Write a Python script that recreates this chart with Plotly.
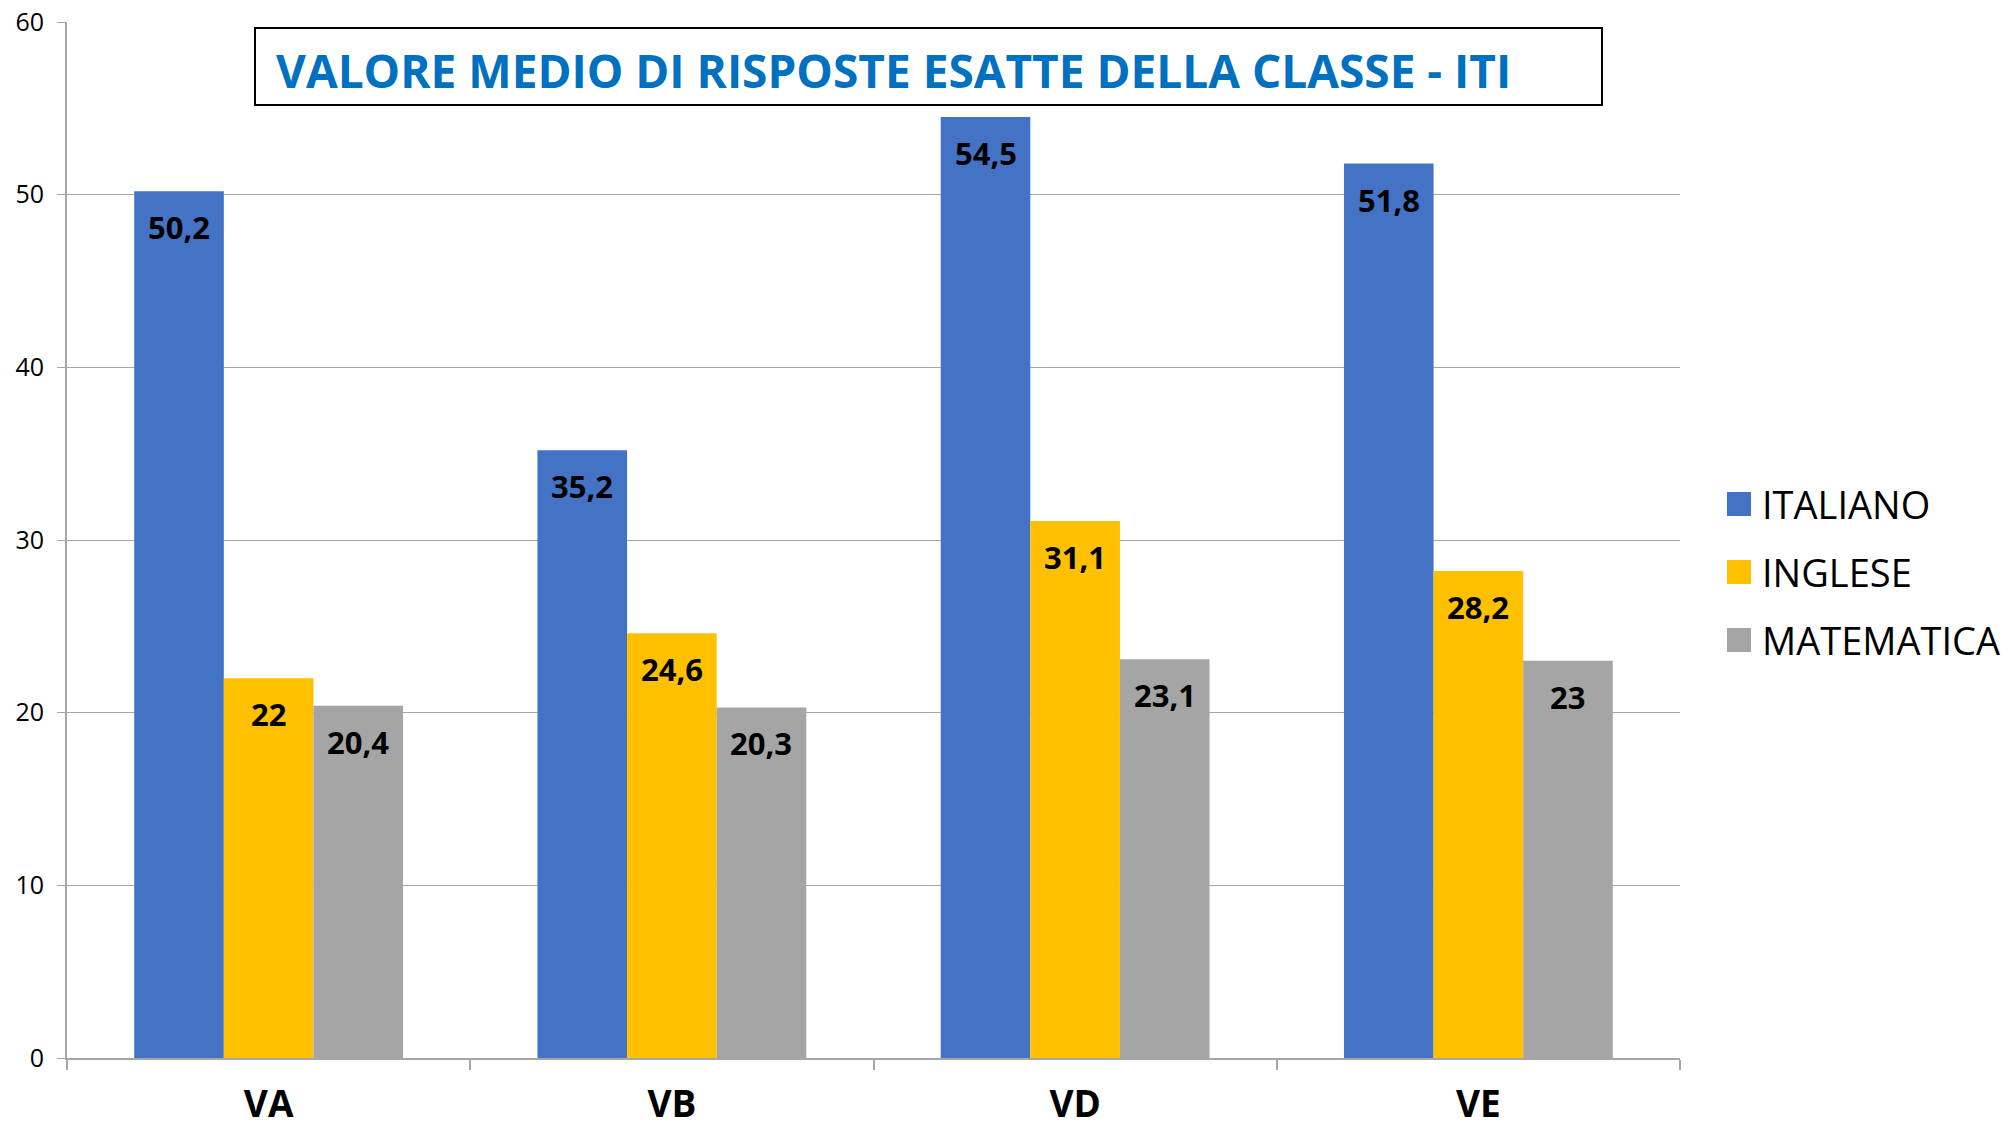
import plotly.graph_objects as go

categories = ["VA", "VB", "VD", "VE"]
series_names = ["ITALIANO", "INGLESE", "MATEMATICA"]
italiano = [50.2, 35.2, 54.5, 51.8]
inglese = [22.0, 24.6, 31.1, 28.2]
matematica = [20.4, 20.3, 23.1, 23.0]
colors = ["#4472C4", "#FFC000", "#A5A5A5"]
title_text = "VALORE MEDIO DI RISPOSTE ESATTE DELLA CLASSE - ITI"

series_values = [italiano, inglese, matematica]

W, H = 2011, 1130
ML, MR, MT, MB = 67, 331, 22, 72
PW = W - ML - MR
PH = H - MT - MB

def px_x(X):
    return (X - ML) / PW

def px_y(Y):
    return (H - MB - Y) / PH

def fmt(v):
    s = f"{v:.1f}".replace(".", ",")
    if s.endswith(",0"):
        s = s[:-2]
    return s

BARGAP = 1 / 3
n = len(series_names)
bw = (1 - BARGAP) / n

fig = go.Figure()
annotations = []
shapes = []
for j, (name, vals, col) in enumerate(zip(series_names, series_values, colors)):
    fig.add_trace(go.Bar(
        name=name, x=categories, y=vals, marker=dict(color=col, line=dict(width=0)),
        showlegend=False, hoverinfo="x+y+name",
    ))
    for i, v in enumerate(vals):
        annotations.append(dict(
            x=i + (j - (n - 1) / 2) * bw, y=v, xref="x", yref="y",
            text=fmt(v), showarrow=False, yanchor="middle", xanchor="center",
            yshift=-36,
            font=dict(family="Open Sans", size=31, color="black", weight="bold"),
        ))
    # manual legend
    yc = px_y(504 + 68 * j)
    hh = 12 / PH
    shapes.append(dict(type="rect", xref="paper", yref="paper",
                       x0=px_x(1727), x1=px_x(1751), y0=yc - hh, y1=yc + hh,
                       fillcolor=col, line=dict(width=0)))
    annotations.append(dict(xref="paper", yref="paper", x=px_x(1760), y=yc,
                            xanchor="left", yanchor="middle", showarrow=False,
                            text=name, font=dict(family="Open Sans", size=38, color="black")))

# title box
shapes.append(dict(type="rect", xref="paper", yref="paper",
                   x0=px_x(255), x1=px_x(1602), y0=px_y(105), y1=px_y(28),
                   line=dict(color="black", width=2), fillcolor="white", layer="above"))
annotations.append(dict(xref="paper", yref="paper", x=px_x(274), y=px_y(70),
                        xanchor="left", yanchor="middle", showarrow=False,
                        text=title_text,
                        font=dict(family="Open Sans", size=46, color="#0070C0", weight="bold")))

fig.update_layout(
    width=W, height=H,
    margin=dict(l=ML, r=MR, t=MT, b=MB, pad=0, autoexpand=False),
    paper_bgcolor="white", plot_bgcolor="white",
    barmode="group", bargap=BARGAP, bargroupgap=0,
    showlegend=False,
    annotations=annotations, shapes=shapes,
    xaxis=dict(
        type="category", showline=True, linecolor="#A6A6A6", linewidth=2,
        ticks="outside", tickson="boundaries", ticklen=10, tickcolor="#A6A6A6", tickwidth=2,
        showgrid=False, ticklabelstandoff=13, automargin=False,
        tickfont=dict(family="Open Sans", size=37, color="black", weight="bold"),
    ),
    yaxis=dict(
        range=[0, 60], dtick=10, showline=True, linecolor="#A6A6A6", linewidth=2,
        ticks="outside", ticklen=8, tickcolor="#A6A6A6", tickwidth=1,
        showgrid=True, gridcolor="#A6A6A6", gridwidth=1, zeroline=False,
        ticklabelstandoff=8, automargin=False,
        tickfont=dict(family="Open Sans", size=25, color="black"),
    ),
)

fig.write_html("out.html")
